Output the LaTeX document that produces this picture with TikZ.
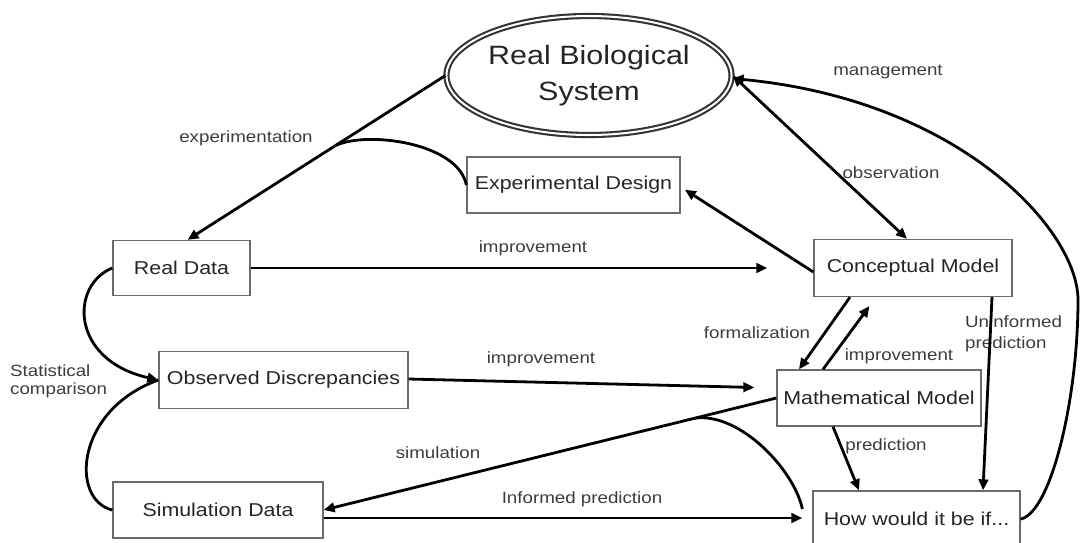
\documentclass[tikz,border=0pt]{standalone}
\usepackage{fontspec}
\setmainfont[FakeStretch=1.15]{Liberation Sans}
\usetikzlibrary{arrows.meta,shapes.geometric,calc}
\definecolor{boxline}{HTML}{6A6A6A}
\definecolor{txt}{HTML}{252525}
\definecolor{lbl}{HTML}{3C3C3C}
\begin{document}
\begin{tikzpicture}[x=1pt,y=-1pt,
 box/.style={draw=boxline,line width=1.3pt,fill=white,inner sep=0pt,font=\fontsize{18.6}{22}\selectfont,text=txt},
 lab/.style={font=\fontsize{16.3}{21.5}\selectfont,text=lbl,inner sep=0pt},
 conn/.style={line width=2.8pt,draw=black},
 tipx/.tip={Triangle[length=11pt,width=9.5pt]},
 arr/.style={conn,-tipx},
]
\useasboundingbox (0,0) rectangle (1080,542);
% nodes
\node[ellipse,draw=black!80,line width=2.1pt,double=white,double distance=2pt,minimum width=262pt,minimum height=119pt,inner sep=0pt,align=center,font=\fontsize{26.5}{36}\selectfont,text=txt] (rbs) at (589,75.5) {Real Biological\\System};
\node[box,minimum width=213pt,minimum height=56pt] (ed) at (573.5,185) {Experimental Design};
\node[box,minimum width=137pt,minimum height=55pt] (rd) at (181.5,268) {Real Data};
\node[box,minimum width=198pt,minimum height=57pt] (cm) at (913,268) {Conceptual Model};
\node[box,minimum width=249pt,minimum height=57pt] (od) at (283.5,380) {Observed Discrepancies};
\node[box,minimum width=204pt,minimum height=56pt] (mm) at (879,398) {Mathematical Model};
\node[box,minimum width=210pt,minimum height=56pt] (sd) at (218,510) {Simulation Data};
\node[box,minimum width=207pt,minimum height=56pt] (hw) at (916.5,519) {How would it be if...};
% labels
\node[lab] (lexp) at (246,138) {experimentation};
\node[lab] (limpa) at (533,248) {improvement};
\node[lab] (lmgmt) at (888,72) {management};
\node[lab] (lobs) at (891,173) {observation};
\node[lab] (lform) at (757,333) {formalization};
\node[lab] (limpb) at (899,356) {improvement};
\node[lab,align=left,anchor=west] (lunf) at (965,334) {Uninformed\\prediction};
\node[lab] (limpc) at (541,359) {improvement};
\node[lab] (lsim) at (438,453) {simulation};
\node[lab] (linf) at (582,499) {Informed prediction};
\node[lab] (lpred) at (886,446) {prediction};
\node[lab,align=left,anchor=west,font=\fontsize{16.3}{18}\selectfont] (lstat) at (10,381) {Statistical\\comparison};
% connectors
\coordinate (rdtop) at ([xshift=6pt]rd.north);
\coordinate (j1) at ($(rbs.west)!0.426!(rdtop)$);
\draw[arr] (rbs.west) -- (rdtop);
\draw[conn] (ed.west) .. controls +(-8,-42) and +(32,-15) .. (j1);
\draw[arr,shorten >=5pt] ([yshift=-4pt]cm.west) -- ([yshift=-2pt]ed.east);
\draw[conn,tipx-tipx] (rbs.east) -- ([xshift=-6pt]cm.north);
\draw[arr] (hw.east) .. controls +(30,-6) and (1078,400) .. (1078,300) .. controls (1078,230) and (960,100) .. ([yshift=-3pt]rbs.east);
\draw[arr,shorten >=46pt] (rd.east) -- (cm.west);
\draw[arr] ([xshift=-63pt]cm.south) -- ([xshift=-80pt]mm.north);
\draw[arr,shorten >=11pt] ([xshift=-56pt]mm.north) -- ([xshift=-37pt]cm.south);
\draw[arr] ([xshift=79pt]cm.south) -- ([xshift=66.5pt]hw.north);
\draw[arr,shorten >=22pt] ([yshift=1pt]od.east) -- ([yshift=10pt]mm.west);
\coordinate (j2) at ($(mm.west)!0.18!(sd.east)$);
\draw[arr] (mm.west) -- (sd.east);
\draw[conn] ([xshift=-10pt,yshift=10pt]hw.west) .. controls +(-8,-39) and +(45,-6) .. (j2);
\draw[arr,shorten >=10pt] ([yshift=-8pt]sd.east) -- ([yshift=-8pt]sd.east -| hw.west);
\draw[arr] ([xshift=-46pt]mm.south) -- ([xshift=-57.5pt]hw.north);
\draw[conn] (sd.west) .. controls (70,500) and (75,410) .. (od.west);
\draw[arr] (rd.west) .. controls (70,285) and (70,360) .. (od.west);
\end{tikzpicture}
\end{document}
